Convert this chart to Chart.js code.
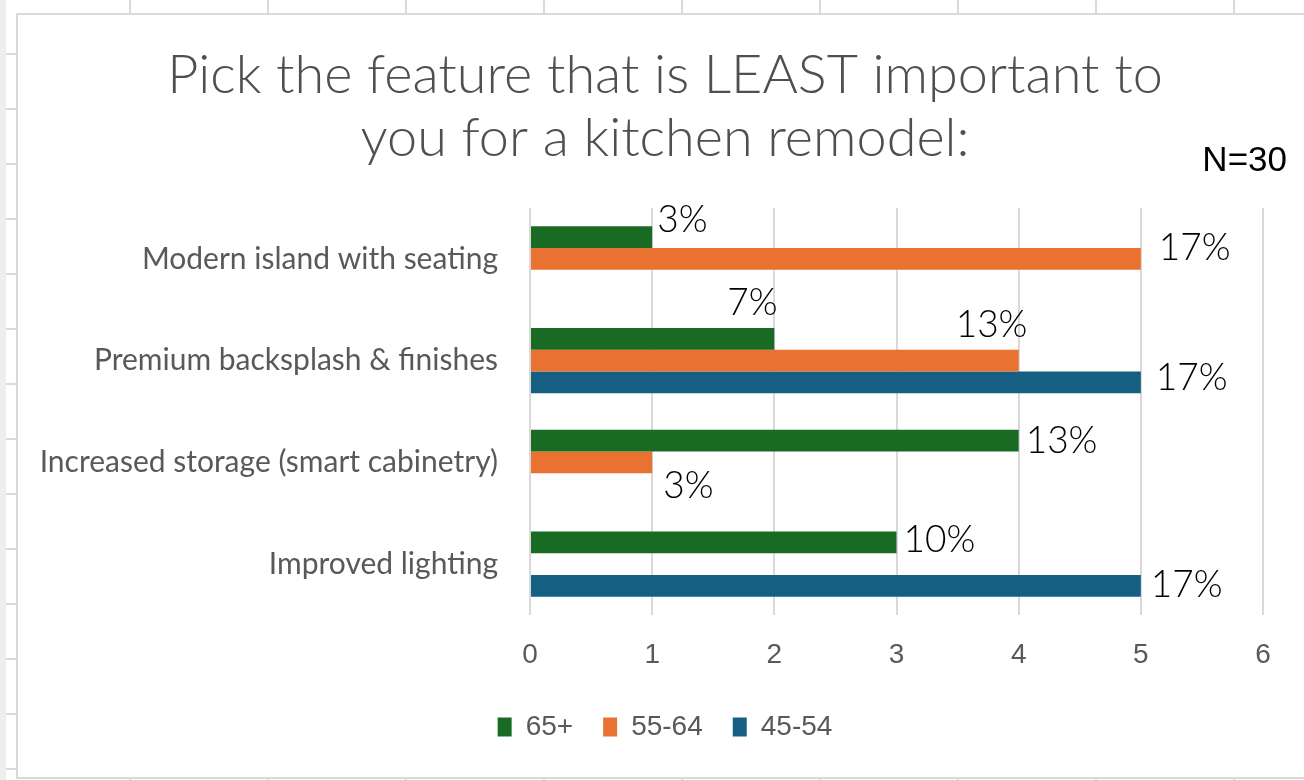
<!DOCTYPE html>
<html>
<head>
<meta charset="utf-8">
<title>Least important kitchen remodel feature</title>
<script src="https://cdn.jsdelivr.net/npm/chart.js@4.4.1/dist/chart.umd.min.js"></script>
<style>
  html, body {
    margin: 0;
    padding: 0;
    width: 1304px;
    height: 780px;
    overflow: hidden;
    background-color: #ffffff;
    background-image:
      repeating-linear-gradient(to bottom, transparent 0, transparent 53px, #dadada 53px, #dadada 55px),
      repeating-linear-gradient(to right, transparent 0, transparent 129px, #dadada 129px, #dadada 131px, transparent 131px, transparent 138px);
  }
  .sheet-edge {
    position: absolute;
    left: 0; top: 0;
    width: 6px; height: 780px;
    background: #eeeeee;
  }
  .box {
    position: absolute;
    left: 16px;
    top: 13px;
    width: 1300px;
    height: 762px;
    border: 2px solid #d9d9d9;
    background: #ffffff;
  }
  .chart-wrap {
    position: absolute;
    left: 0;
    top: 0;
    width: 1286px;
    height: 762px;
  }
</style>
</head>
<body>
<div class="sheet-edge"></div>
<div class="box">
  <div class="chart-wrap"><canvas id="chart"></canvas></div>
</div>

<script>
/* ---- Data ---- */
const titleLines = ['Pick the feature that is LEAST important to', 'you for a kitchen remodel:'];
const sampleSize = 30;

const categories = [
  'Modern island with seating',
  'Premium backsplash & finishes',
  'Increased storage (smart cabinetry)',
  'Improved lighting',
];

const seriesNames = ['65+', '55-64', '45-54'];

// number of respondents per feature, by age group (null = no answer)
const age65plus = [1, 2, 4, 3];
const age55to64 = [5, 4, 1, null];
const age45to54 = [null, 5, null, 5];

const xTicks = [0, 1, 2, 3, 4, 5, 6];

/* ---- Styles ---- */
const seriesColors = ['#196B24', '#E97132', '#156082'];
const gray = '#595959';
const narrowFont = '"Liberation Sans", Arial, sans-serif';

// hand-placed label nudges [dx, dy] from the bar end, like the Excel original
const labelNudges = [
  [[5, -17], [-47, -36], [7, 0], [7, -2]],
  [[18, -11], [-63, -36], [11, 24], [0, 0]],
  [[0, 0], [15, -4], [0, 0], [10, -1]],
];

/* ---- Data labels (percent of N) ---- */
const percentLabels = {
  id: 'percentLabels',
  afterDatasetsDraw(chart) {
    const { ctx } = chart;
    ctx.save();
    ctx.font = '300 37px Lato, "DejaVu Sans", sans-serif';
    ctx.fillStyle = '#000000';
    ctx.textAlign = 'left';
    ctx.textBaseline = 'middle';
    chart.data.datasets.forEach((ds, di) => {
      const meta = chart.getDatasetMeta(di);
      meta.data.forEach((bar, i) => {
        const v = ds.data[i];
        if (v === null || v === undefined) return;
        const [dx, dy] = labelNudges[di][i];
        const txt = Math.round((v / sampleSize) * 100) + '%';
        ctx.fillText(txt, bar.x + dx, bar.y + dy);
      });
    });

    // N= note at top right
    ctx.font = '35px ' + narrowFont;
    ctx.textAlign = 'right';
    ctx.fillText('N=' + sampleSize, chart.chartArea.right + 24, chart.chartArea.top - 47);
    ctx.restore();
  },
};

/* ---- Chart ---- */
const ctx = document.getElementById('chart');

new Chart(ctx, {
  type: 'bar',
  data: {
    labels: categories,
    datasets: [
      { label: seriesNames[0], data: age65plus, backgroundColor: seriesColors[0] },
      { label: seriesNames[1], data: age55to64, backgroundColor: seriesColors[1] },
      { label: seriesNames[2], data: age45to54, backgroundColor: seriesColors[2] },
    ],
  },
  options: {
    indexAxis: 'y',
    responsive: true,
    maintainAspectRatio: false,
    animation: false,
    categoryPercentage: 0.64,
    barPercentage: 1.0,
    // left padding shifts the centred title/legend; long y labels may spill into it
    layout: { padding: { left: 49, right: 41, top: 0, bottom: 26 } },
    plugins: {
      title: {
        display: true,
        text: titleLines,
        color: '#4f4f4f',
        font: { family: 'Lato, "DejaVu Sans", sans-serif', size: 54, weight: 300, lineHeight: 1.167 },
        padding: { top: 29, bottom: 38 },
      },
      legend: {
        position: 'bottom',
        labels: {
          color: gray,
          boxWidth: 14,
          boxHeight: 19,
          padding: 30,
          font: { family: narrowFont, size: 28 },
        },
      },
      tooltip: { enabled: false },
    },
    scales: {
      x: {
        min: 0,
        max: 6,
        afterBuildTicks: (scale) => { scale.ticks = xTicks.map((v) => ({ value: v })); },
        afterFit: (scale) => { scale.height = 68; },
        grid: { color: '#d9d9d9', lineWidth: 2, drawTicks: false },
        border: { display: false },
        ticks: {
          color: gray,
          padding: 23,
          font: { family: narrowFont, size: 28 },
        },
      },
      y: {
        grid: { display: false, drawTicks: false },
        border: { display: false },
        afterFit: (scale) => {
          scale.width = 463;
          scale._computeLabelArea = () => undefined; // don't clip the long labels
        },
        ticks: {
          color: gray,
          padding: 32,
          font: { family: 'Lato, sans-serif', size: 30 },
        },
      },
    },
  },
  plugins: [percentLabels],
});
</script>
</body>
</html>
